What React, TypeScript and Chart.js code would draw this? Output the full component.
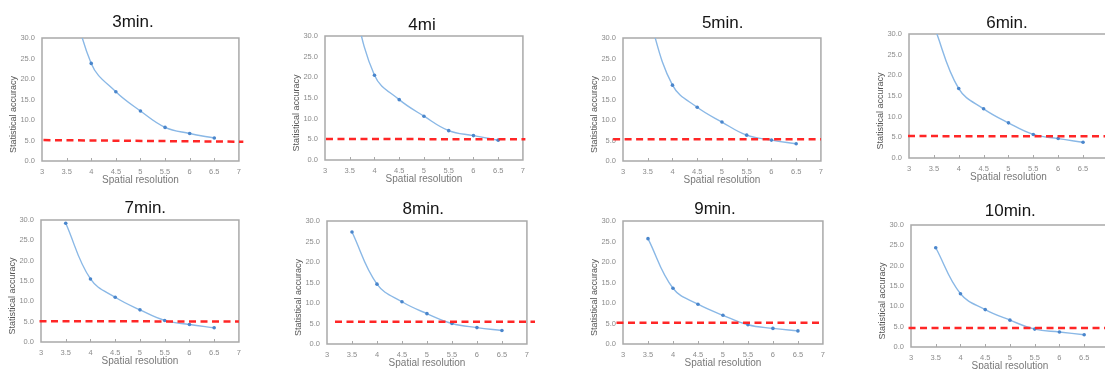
import React, { useEffect, useRef } from "react";
import { Chart, registerables } from "chart.js";

Chart.register(...registerables);

// ---------- data ----------
const resolutions = [3.5, 4, 4.5, 5, 5.5, 6, 6.5];
const panelTitles = ["3min.", "4mi", "5min.", "6min.", "7min.", "8min.", "9min.", "10min."];
const xAxisTitle = "Spatial resolution";
const yAxisTitle = "Statistical accuracy";

const acc3min = [46, 23.8, 16.9, 12.2, 8.2, 6.7, 5.6];
const acc4min = [42, 20.5, 14.6, 10.6, 7.1, 5.9, 4.8];
const acc5min = [36, 18.5, 13.1, 9.5, 6.3, 5.1, 4.2];
const acc6min = [32, 16.8, 11.9, 8.5, 5.7, 4.7, 3.8];
const acc7min = [29.2, 15.5, 11.0, 7.9, 5.3, 4.3, 3.5];
const acc8min = [27.3, 14.6, 10.3, 7.4, 5.0, 4.0, 3.3];
const acc9min = [25.7, 13.6, 9.7, 7.0, 4.7, 3.8, 3.2];
const acc10min = [24.4, 13.1, 9.2, 6.6, 4.4, 3.7, 3.0];
const accuracySeries = [acc3min, acc4min, acc5min, acc6min, acc7min, acc8min, acc9min, acc10min];

// red dashed threshold line (start / end in data units)
const refStartX = [3.03, 3.02, 2.8, 2.98, 2.97, 3.16, 2.87, 2.95];
const refEndX = [7.09, 7.05, 7.0, 7.3, 7.0, 7.4, 7.0, 7.3];
const refStartY = [5.1, 5.1, 5.3, 5.3, 5.1, 5.4, 5.2, 4.7];
const refEndY = [4.7, 5.0, 5.3, 5.25, 5.05, 5.4, 5.2, 4.7];

const xMin = 3;
const xMax = 7;
const xStep = 0.5;
const yMin = 0;
const yMax = 30;
const yStep = 5;

// ---------- layout (page pixels) ----------
const plotBoxes = [
  { l: 42, t: 38, r: 239, b: 161 },
  { l: 325, t: 36, r: 523, b: 160 },
  { l: 623, t: 38, r: 821, b: 161 },
  { l: 909, t: 34, r: 1108, b: 158 },
  { l: 41, t: 220, r: 239, b: 342 },
  { l: 327, t: 221, r: 527, b: 344 },
  { l: 623, t: 221, r: 823, b: 344 },
  { l: 911, t: 225, r: 1109, b: 347 },
];
const titleCenters = [
  [133, 22.7],
  [422, 25.7],
  [722.7, 23.3],
  [1007, 23.3],
  [145.3, 208],
  [423.3, 209],
  [715, 209],
  [1010.3, 211.7],
];

const Y_AXIS_W = 38;
const X_AXIS_H = 28;
const PAD_TOP = 32;
const PAD_RIGHT = 8;
const PAD_BOTTOM = 2;
const FONT = "'Liberation Sans', Arial, Helvetica, sans-serif";

const decorPlugin = {
  id: "decor",
  beforeDatasetsDraw(chart: any) {
    const { ctx, chartArea: a } = chart;
    ctx.save();
    ctx.strokeStyle = "#a9a9a9";
    ctx.lineWidth = 1.5;
    ctx.strokeRect(a.left, a.top, a.right - a.left, a.bottom - a.top);
    const xs = chart.scales.x;
    ctx.lineWidth = 1;
    for (let v = xMin + xStep; v < xMax; v += xStep) {
      const px = Math.round(xs.getPixelForValue(v)) + 0.5;
      ctx.beginPath();
      ctx.moveTo(px, a.bottom);
      ctx.lineTo(px, a.bottom - 3);
      ctx.stroke();
    }
    ctx.restore();
  },
  afterDraw(chart: any, _args: any, opts: any) {
    const { ctx, chartArea: a } = chart;
    ctx.save();
    ctx.fillStyle = "#151515";
    ctx.font = `17px ${FONT}`;
    ctx.textAlign = "center";
    ctx.textBaseline = "middle";
    ctx.fillText(opts.title, opts.tx, opts.ty);
    ctx.translate(a.left - 28.5, (a.top + a.bottom) / 2 + 15);
    ctx.rotate(-Math.PI / 2);
    ctx.font = `9px ${FONT}`;
    ctx.fillStyle = "#555555";
    ctx.fillText(yAxisTitle, 0, 0);
    ctx.restore();
  },
};

function Panel({ index }: { index: number }) {
  const ref = useRef<HTMLCanvasElement | null>(null);
  const box = plotBoxes[index];
  const left = box.l - Y_AXIS_W;
  const top = box.t - PAD_TOP;
  const width = box.r - box.l + Y_AXIS_W + PAD_RIGHT;
  const height = box.b - box.t + PAD_TOP + X_AXIS_H + PAD_BOTTOM;

  useEffect(() => {
    if (!ref.current) return;
    const values = accuracySeries[index];
    const chart = new Chart(ref.current, {
      type: "line",
      data: {
        datasets: [
          {
            data: [
              { x: refStartX[index], y: refStartY[index] },
              { x: refEndX[index], y: refEndY[index] },
            ],
            borderColor: "#ff2626",
            borderWidth: 2.5,
            borderDash: [7, 4.5],
            pointRadius: 0,
            tension: 0,
            clip: false as any,
          },
          {
            data: resolutions.map((x, i) => ({ x, y: values[i] })),
            borderColor: "#8ab8e6",
            borderWidth: 1.4,
            pointRadius: 1.8,
            pointBackgroundColor: "#4a86cc",
            pointBorderWidth: 0,
            tension: 0.4,
          },
        ],
      },
      options: {
        responsive: false,
        animation: false,
        devicePixelRatio: 1,
        layout: { padding: { top: PAD_TOP, right: PAD_RIGHT, bottom: PAD_BOTTOM, left: 0 } },
        plugins: {
          legend: { display: false },
          tooltip: { enabled: false },
          title: { display: false },
          decor: {
            title: panelTitles[index],
            tx: titleCenters[index][0] - left,
            ty: titleCenters[index][1] - top,
          },
        } as any,
        scales: {
          x: {
            type: "linear",
            min: xMin,
            max: xMax,
            afterFit: (s: any) => {
              s.height = X_AXIS_H;
            },
            grid: { display: false, drawTicks: false },
            border: { display: false },
            ticks: {
              stepSize: xStep,
              padding: 6,
              color: "#8c8c8c",
              font: { size: 7.5, family: FONT },
              callback: (v: any) => String(v),
            },
            title: {
              display: true,
              text: xAxisTitle,
              color: "#787878",
              font: { size: 10, family: FONT },
              padding: { top: 0, bottom: 2.4 },
            },
          },
          y: {
            type: "linear",
            min: yMin,
            max: yMax,
            afterFit: (s: any) => {
              s.width = Y_AXIS_W;
            },
            grid: { display: false, drawTicks: false },
            border: { display: false },
            ticks: {
              stepSize: yStep,
              padding: 7,
              color: "#8c8c8c",
              font: { size: 7.5, family: FONT },
              callback: (v: any) => Number(v).toFixed(1),
            },
          },
        },
      },
      plugins: [decorPlugin as any],
    });
    return () => chart.destroy();
  }, [index]);

  return (
    <canvas
      ref={ref}
      width={width}
      height={height}
      style={{ position: "absolute", left, top, width, height }}
    />
  );
}

export default function App() {
  return (
    <div
      style={{
        position: "absolute",
        left: 0,
        top: 0,
        width: 1105,
        height: 369,
        overflow: "hidden",
        background: "#ffffff",
      }}
    >
      {panelTitles.map((_, i) => (
        <Panel key={i} index={i} />
      ))}
    </div>
  );
}
